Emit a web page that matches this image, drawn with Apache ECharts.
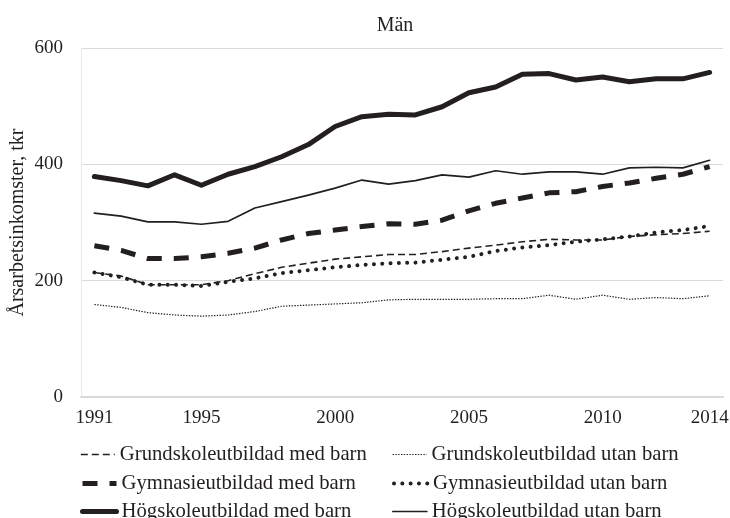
<!DOCTYPE html>
<html lang="sv">
<head>
    <meta charset="UTF-8">
    <title>Män</title>
    <script src="https://cdn.jsdelivr.net/npm/echarts@6/dist/echarts.min.js"></script>
    <style>
        html, body { margin: 0; padding: 0; background: #fff; }
        #main { width: 730px; height: 518px; }
    </style>
</head>
<body>
    <div id="main"></div>
    <script>
        // år
        var years = [];
        for (var y = 1991; y <= 2014; y++) years.push(String(y));
        var shownYears = ['1991', '1995', '2000', '2005', '2010', '2014'];

        // årsarbetsinkomster, tkr
        var grundMed = [214, 208, 193, 193, 193, 200, 212, 223, 230, 237, 241, 245, 245, 250, 256, 261, 267, 271, 270, 270, 276, 279, 281, 285];
        var grundUtan = [159, 154, 145, 141, 139, 141, 147, 156, 158, 160, 162, 167, 168, 168, 168, 169, 169, 175, 168, 175, 168, 171, 169, 174];
        var gymMed = [260, 252, 238, 238, 241, 247, 256, 270, 281, 287, 293, 298, 297, 304, 320, 333, 342, 351, 353, 362, 368, 376, 383, 396];
        var gymUtan = [214, 206, 193, 193, 191, 198, 204, 213, 218, 223, 227, 230, 231, 236, 241, 251, 257, 261, 267, 271, 276, 283, 287, 294];
        var hogMed = [379, 372, 363, 382, 364, 383, 396, 413, 434, 465, 482, 486, 485, 499, 523, 533, 555, 556, 545, 550, 542, 547, 547, 558];
        var hogUtan = [316, 311, 301, 301, 297, 302, 325, 336, 347, 359, 373, 366, 372, 382, 378, 389, 383, 387, 387, 383, 394, 395, 394, 407];

        var names = [
            'Grundskoleutbildad med barn', 'Grundskoleutbildad utan barn',
            'Gymnasieutbildad med barn', 'Gymnasieutbildad utan barn',
            'Högskoleutbildad med barn', 'Högskoleutbildad utan barn'
        ];

        var ink = '#231f20';
        var font = '"Liberation Serif", "DejaVu Serif", serif';

        // linjestilar per serie
        var styles = [
            { width: 1.6, type: [7, 4], cap: 'butt' },
            { width: 1.2, type: [1.4, 1.4], cap: 'butt' },
            { width: 5, type: [15, 12], cap: 'butt' },
            { width: 4, type: [0.01, 8.3], cap: 'round' },
            { width: 5, type: 'solid', cap: 'round' },
            { width: 1.7, type: 'solid', cap: 'round' }
        ];
        var values = [grundMed, grundUtan, gymMed, gymUtan, hogMed, hogUtan];

        var series = names.map(function (n, i) {
            return {
                name: n,
                type: 'line',
                data: values[i],
                symbol: 'none',
                color: ink,
                animation: false,
                lineStyle: {
                    color: ink,
                    width: styles[i].width,
                    type: styles[i].type,
                    cap: styles[i].cap,
                    join: 'round'
                }
            };
        });

        // en legend per post: två kolumner, tre rader
        var legendLeft = [80, 392];
        var legendWidth = [34, 34];
        var legendTop = [444, 473, 501];
        var legends = names.map(function (n, i) {
            return {
                left: legendLeft[i % 2],
                top: legendTop[Math.floor(i / 2)],
                orient: 'horizontal',
                itemWidth: legendWidth[i % 2],
                itemHeight: 14,
                padding: 0,
                selectedMode: false,
                textStyle: { fontFamily: font, fontSize: 20.7, color: ink, lineHeight: 20 },
                data: [{
                    name: n,
                    itemStyle: { color: 'rgba(0,0,0,0)', borderWidth: 0, opacity: 0 },
                    lineStyle: { width: styles[i].width, type: styles[i].type, cap: styles[i].cap, color: ink }
                }]
            };
        });

        var chart = echarts.init(document.getElementById('main'));
        var option = {
            backgroundColor: '#fff',
            animation: false,
            title: {
                text: 'Män',
                left: 390,
                textAlign: 'center',
                top: 11,
                textStyle: { fontFamily: font, fontSize: 20, fontWeight: 'normal', color: ink }
            },
            grid: { left: 81, right: 7, top: 48, bottom: 121, outerBoundsMode: 'none', containLabel: false },
            legend: legends,
            xAxis: {
                type: 'category',
                data: years,
                boundaryGap: true,
                axisLine: { lineStyle: { color: '#d9d9d9', width: 2 } },
                axisTick: { show: false },
                axisLabel: {
                    interval: 0,
                    margin: 12,
                    fontFamily: font,
                    fontSize: 19,
                    color: ink,
                    formatter: function (v) { return shownYears.indexOf(v) >= 0 ? v : ''; }
                },
                splitLine: { show: false }
            },
            yAxis: {
                type: 'value',
                min: 0,
                max: 600,
                interval: 200,
                name: 'Årsarbetsinkomster, tkr',
                nameLocation: 'middle',
                nameGap: 53,
                nameMoveOverlap: false,
                nameTextStyle: { fontFamily: font, fontSize: 20, color: ink },
                axisLine: { show: true, lineStyle: { color: '#ebe8dc', width: 1 } },
                axisTick: { show: false },
                axisLabel: { margin: 18, fontFamily: font, fontSize: 19, color: ink },
                splitLine: { lineStyle: { color: '#d9d9d9', width: 1 } }
            },
            series: series
        };
        chart.setOption(option);
    </script>
</body>
</html>
